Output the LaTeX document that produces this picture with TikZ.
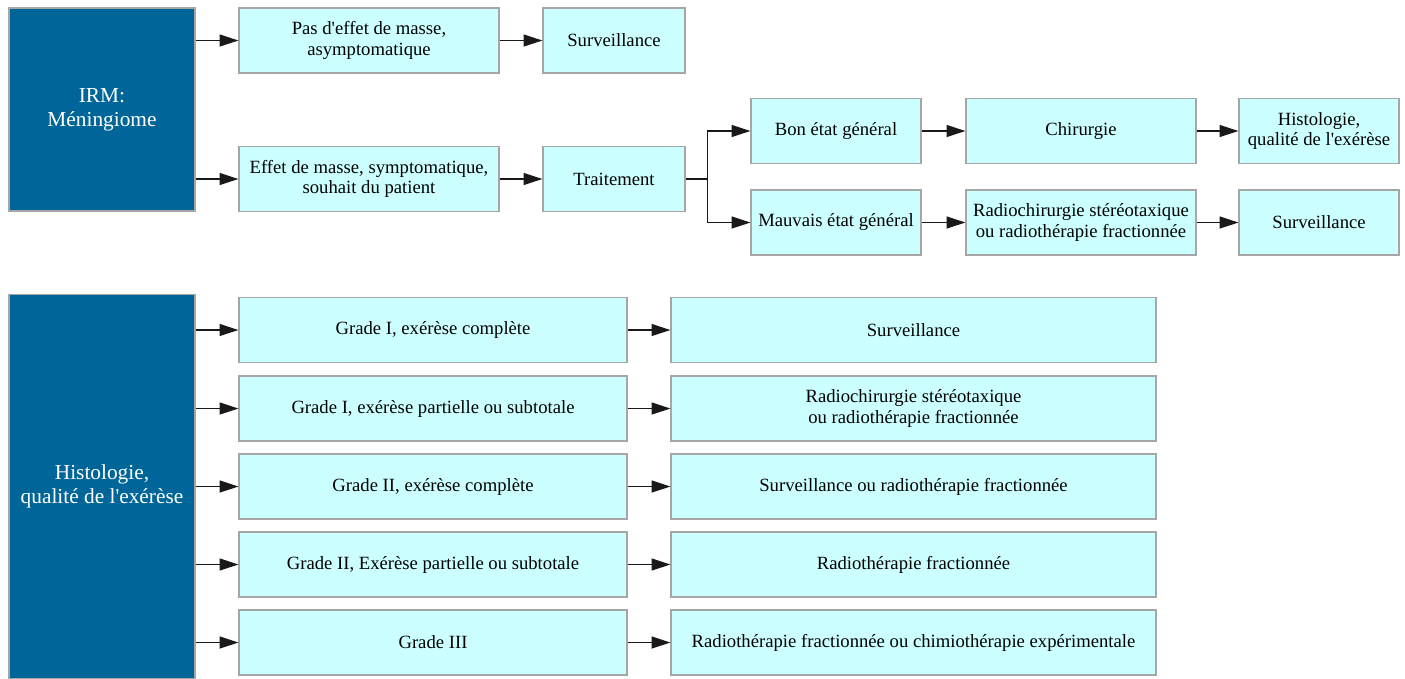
\documentclass[tikz,border=0pt]{standalone}
\usepackage{fontspec}
\setmainfont{Liberation Serif}
\usetikzlibrary{arrows.meta,positioning}
\definecolor{darkblue}{HTML}{006699}
\definecolor{lightcyan}{HTML}{CCFFFF}
\definecolor{boxgray}{HTML}{A6A6A6}

\begin{document}
\begin{tikzpicture}[
    x=0.75pt, y=-0.75pt,
    every node/.style={font=\fontsize{14}{15.5}\selectfont},
    box/.style={draw=boxgray, line width=1pt, fill=lightcyan, align=center, minimum height=48.75pt, inner sep=2pt},
    head/.style={draw=boxgray, line width=1pt, fill=darkblue, text=white, align=center, minimum width=139.5pt, font=\fontsize{16}{18}\selectfont},
    arr/.style={-{Triangle[length=14pt,width=9pt]}, line width=0.8pt, draw=black!90}
  ]
  \useasboundingbox (0,0) rectangle (1405,678);
  % top part
  \node[head, minimum height=152.25pt] (irm) at (102,109.5) {IRM:\\ Méningiome};
  \node[box, minimum width=195pt] (calme) at (369,40.5) {Pas d\textquotesingle effet de masse,\\ asymptomatique};
  \node[box, minimum width=106.5pt] (surv) at (614,40.5) {Surveillance};
  \node[box, minimum width=195pt] (masse) at (369,179) {Effet de masse, symptomatique,\\ souhait du patient};
  \node[box, minimum width=106.5pt] (trait) at (614,179) {Traitement};
  \node[box, minimum width=127.5pt] (bon) at (836,131) {Bon état général};
  \node[box, minimum width=172.5pt] (chir) at (1081,131) {Chirurgie};
  \node[box, minimum width=120pt] (histo) at (1319,131) {Histologie,\\ qualité de l\textquotesingle exérèse};
  \node[box, minimum width=127.5pt] (mauv) at (836,222.5) {Mauvais état général};
  \node[box, minimum width=172.5pt] (rchir) at (1081,222.5) {Radiochirurgie stéréotaxique\\ ou radiothérapie fractionnée};
  \node[box, minimum width=120pt] (surv2) at (1319,222.5) {Surveillance};
  \draw[arr] (irm.east |- calme) -- (calme);
  \draw[arr] (irm.east |- masse) -- (masse);
  \draw[arr] (calme) -- (surv);
  \draw[arr] (masse) -- (trait);
  \draw[arr] (trait.east) -- ++(22,0) |- (bon.west);
  \draw[arr] (trait.east) -- ++(22,0) |- (mauv.west);
  \draw[arr] (bon) -- (chir);
  \draw[arr] (chir) -- (histo);
  \draw[arr] (mauv) -- (rchir);
  \draw[arr] (rchir) -- (surv2);
  % bottom part
  \node[head, minimum height=288pt] (hist) at (102,486.5) {Histologie,\\ qualité de l\textquotesingle exérèse};
  \foreach \n/\y/\grade/\suite in {
      a/330/{Grade I, exérèse complète}/{Surveillance},
      b/408.5/{Grade I, exérèse partielle ou subtotale}/{Radiochirurgie stéréotaxique\\ ou radiothérapie fractionnée},
      c/486.5/{Grade II, exérèse complète}/{Surveillance ou radiothérapie fractionnée},
      d/564.5/{Grade II, Exérèse partielle ou subtotale}/{Radiothérapie fractionnée},
      e/642.5/{Grade III}/{Radiothérapie fractionnée ou chimiothérapie expérimentale}} {
    \node[box, minimum width=291pt] (g\n) at (433,\y) {\grade};
    \node[box, minimum width=363.75pt] (t\n) at (913.5,\y) {\suite};
    \draw[arr] (hist.east |- g\n) -- (g\n);
    \draw[arr] (g\n) -- (t\n);
  }
\end{tikzpicture}
\end{document}
